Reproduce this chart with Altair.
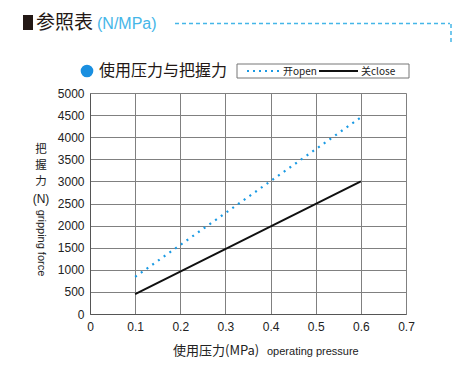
import altair as alt
import pandas as pd

pressure = [0.1, 0.6]
open_force = [840, 4450]
close_force = [450, 3000]

x_ticks = [0, 0.1, 0.2, 0.3, 0.4, 0.5, 0.6, 0.7]
y_ticks = [0, 500, 1000, 1500, 2000, 2500, 3000, 3500, 4000, 4500, 5000]

OX, OY = 90, 93
W, H = 316, 221
def px(x): return x - OX
def py(y): return y - OY

BLUE = "#1a9ae4"
LBLUE = "#45b6e8"
CJK = "Noto Sans CJK SC"
SANS = "Liberation Sans"

df = pd.DataFrame({
    "p": pressure * 2,
    "f": open_force + close_force,
    "s": ["open"] * 2 + ["close"] * 2,
})

xs = alt.Scale(domain=[0, 0.7], nice=False)
ys = alt.Scale(domain=[0, 5000], nice=False)
xa = alt.Axis(values=x_ticks, format="~g", title=None, ticks=False,
              labelPadding=7, labelFontSize=12, labelFont=SANS, labelColor="#222",
              gridColor="#808080", gridOpacity=1, domainColor="#555", labelFlush=False,
              labelOverlap=False)
ya = alt.Axis(values=y_ticks, format="d", title=None, ticks=False,
              labelPadding=6, labelFontSize=12, labelFont=SANS, labelColor="#222",
              gridColor="#808080", gridOpacity=1, domainColor="#555", labelOverlap=False,
              labelFlush=False)
X = alt.X("p:Q", scale=xs, axis=xa)
Y = alt.Y("f:Q", scale=ys, axis=ya)

base = alt.Chart(df)

open_line = base.transform_filter(alt.datum.s == "open").mark_line(
    color=BLUE, strokeWidth=2.2, strokeDash=[2, 5]).encode(x=X, y=Y)
close_line = base.transform_filter(alt.datum.s == "close").mark_line(
    color="#111", strokeWidth=2).encode(x=X, y=Y)

one = pd.DataFrame({"a": [0]})
def txt(t, x, y, size=12, color="#222", font=CJK, align="left", angle=0, baseline="middle"):
    kw = dict(text=t, fontSize=size, color=color, font=font, align=align, baseline=baseline)
    if angle:
        kw["angle"] = angle
    return alt.Chart(one).mark_text(**kw).encode(x=alt.value(px(x)), y=alt.value(py(y)))

def rule(x1, x2, y1, y2, color, width=1.5, dash=None):
    kw = dict(color=color, strokeWidth=width)
    if dash:
        kw["strokeDash"] = dash
    return alt.Chart(one).mark_rule(**kw).encode(
        x=alt.value(px(x1)), x2=alt.value(px(x2)), y=alt.value(py(y1)), y2=alt.value(py(y2)))

layers = [open_line, close_line]

# header
layers.append(alt.Chart(one).mark_rect(color="#231815").encode(
    x=alt.value(px(23)), x2=alt.value(px(33)), y=alt.value(py(15)), y2=alt.value(py(30))))
layers.append(txt("参照表", 36, 23, size=19, color="#231815"))
layers.append(txt("(N/MPa)", 97, 24, size=16, color=LBLUE, font=SANS))
layers.append(rule(175, 450, 23.5, 23.5, LBLUE, 1.5, [4, 3]))
layers.append(rule(451, 451, 24, 44, LBLUE, 1.5, [4, 3]))

# sub header
layers.append(alt.Chart(one).mark_point(filled=True, color="#1a8fe0", size=160, opacity=1).encode(
    x=alt.value(px(87)), y=alt.value(py(71))))
layers.append(txt("使用压力与把握力", 99, 71, size=16, color="#231815"))

# legend box
layers.append(alt.Chart(one).mark_rect(fill="white", stroke="#777", strokeWidth=1).encode(
    x=alt.value(px(237)), x2=alt.value(px(409)), y=alt.value(py(64)), y2=alt.value(py(78))))
layers.append(rule(247, 281, 71, 71, BLUE, 2, [2, 4]))
layers.append(txt("开open", 283, 71.5, size=10, color="#222"))
layers.append(rule(319, 358, 71, 71, "#111", 2))
layers.append(txt("关close", 361, 71.5, size=10, color="#222"))

# y title
for ch, yy in [("把", 150), ("握", 166), ("力", 182)]:
    layers.append(txt(ch, 41, yy, size=11.5, color="#222", align="center"))
layers.append(txt("(N)", 41, 199, size=12, color="#222", font=SANS, align="center"))
layers.append(txt("gripping force", 41, 243, size=11, color="#222", font=SANS, align="center", angle=90))

# x title
layers.append(txt("使用压力(MPa)", 173, 351, size=13, color="#222"))
layers.append(txt("operating pressure", 267, 352, size=11, color="#222", font=SANS))

chart = alt.layer(*layers).properties(
    width=W, height=H,
    autosize=alt.AutoSizeParams(type="none"),
    padding={"left": 82, "top": 85, "right": 48, "bottom": 45},
).configure_view(stroke=None).configure(background="white")

chart.save("out.html", embed_options={"renderer": "svg", "actions": False})
